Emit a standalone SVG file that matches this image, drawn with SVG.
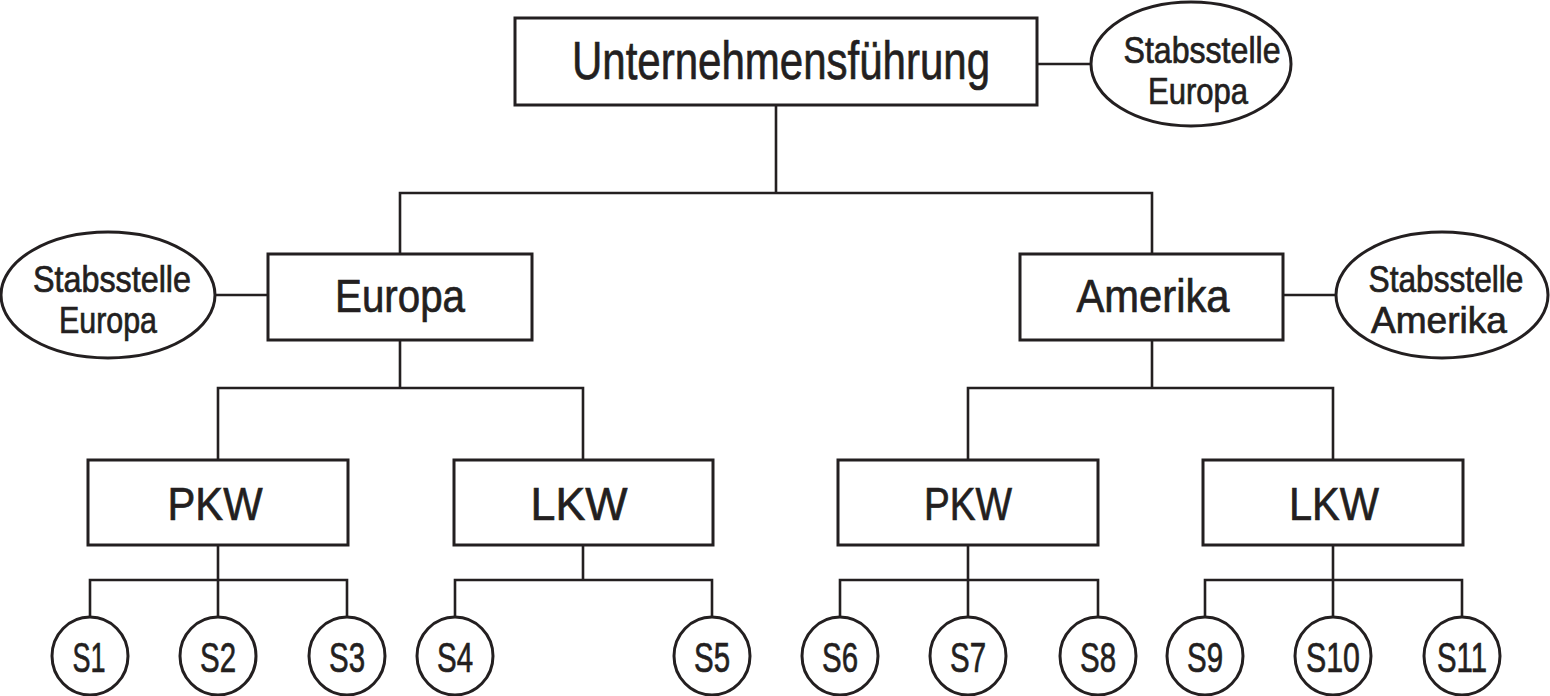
<svg xmlns="http://www.w3.org/2000/svg" width="1550" height="696" viewBox="0 0 1550 696">
<style>
.b{fill:#fff;stroke:#231f20;stroke-width:3}
.c{fill:none;stroke:#231f20;stroke-width:2.6}
text{font-family:"Liberation Sans Narrow","Liberation Sans",Arial,sans-serif;fill:#231f20;stroke:#231f20;stroke-width:0.7;text-anchor:middle}
.t1{font-size:54px}
.t2{font-size:47px}
.t3{font-size:36px}
.t4{font-size:42px}
</style>
<rect width="1550" height="696" fill="#fff"/>
<g id="connectors" class="c">
<path d="M1037 64H1091"/>
<path d="M776 105V193M400 253V193H1152V253"/>
<path d="M216 295H268"/>
<path d="M1283 295H1335"/>
<path d="M400 340V388M218 460V388H583V460"/>
<path d="M1152 340V388M968 460V388H1333V460"/>
<path d="M218 545V580M90 618V580H347V618M218 580V618"/>
<path d="M583 545V580M455 618V580H712V618"/>
<path d="M968 545V580M840 618V580H1098V618M968 580V618"/>
<path d="M1333 545V580M1205 618V580H1462V618M1333 580V618"/>
</g>
<g id="top"><rect class="b" x="515" y="18" width="522" height="87"/><text class="t1" x="781" y="79" textLength="418" lengthAdjust="spacingAndGlyphs">Unternehmensführung</text></g>
<g id="staff-top"><ellipse class="b" cx="1191" cy="64" rx="100" ry="62"/><text class="t3" x="1202" y="63" textLength="157" lengthAdjust="spacingAndGlyphs">Stabsstelle</text><text class="t3" x="1198" y="104" textLength="100" lengthAdjust="spacingAndGlyphs">Europa</text></g>
<g id="europa"><rect class="b" x="268" y="254" width="264" height="86"/><text class="t2" x="400" y="312" textLength="130" lengthAdjust="spacingAndGlyphs">Europa</text></g>
<g id="staff-europa"><ellipse class="b" cx="108" cy="295" rx="107" ry="63"/><text class="t3" x="112" y="292" textLength="158" lengthAdjust="spacingAndGlyphs">Stabsstelle</text><text class="t3" x="108" y="333" textLength="98" lengthAdjust="spacingAndGlyphs">Europa</text></g>
<g id="amerika"><rect class="b" x="1020" y="254" width="263" height="86"/><text class="t2" x="1153" y="312" textLength="153" lengthAdjust="spacingAndGlyphs">Amerika</text></g>
<g id="staff-amerika"><ellipse class="b" cx="1442" cy="295" rx="106" ry="63"/><text class="t3" x="1446" y="292" textLength="155" lengthAdjust="spacingAndGlyphs">Stabsstelle</text><text class="t3" x="1439" y="333" textLength="136" lengthAdjust="spacingAndGlyphs">Amerika</text></g>
<g id="pkw-eu"><rect class="b" x="88" y="460" width="260" height="85"/><text class="t2" x="215" y="520" textLength="95" lengthAdjust="spacingAndGlyphs">PKW</text></g>
<g id="lkw-eu"><rect class="b" x="454" y="460" width="259" height="85"/><text class="t2" x="579" y="520" textLength="97" lengthAdjust="spacingAndGlyphs">LKW</text></g>
<g id="pkw-am"><rect class="b" x="838" y="460" width="260" height="85"/><text class="t2" x="968" y="520" textLength="88" lengthAdjust="spacingAndGlyphs">PKW</text></g>
<g id="lkw-am"><rect class="b" x="1203" y="460" width="260" height="85"/><text class="t2" x="1334" y="520" textLength="90" lengthAdjust="spacingAndGlyphs">LKW</text></g>
<g id="s1"><ellipse class="b" cx="90" cy="656" rx="38" ry="39"/><text class="t4" x="89" y="672" textLength="33" lengthAdjust="spacingAndGlyphs">S1</text></g>
<g id="s2"><ellipse class="b" cx="218" cy="656" rx="38" ry="39"/><text class="t4" x="218" y="672" textLength="36" lengthAdjust="spacingAndGlyphs">S2</text></g>
<g id="s3"><ellipse class="b" cx="347" cy="656" rx="38" ry="39"/><text class="t4" x="347" y="672" textLength="36" lengthAdjust="spacingAndGlyphs">S3</text></g>
<g id="s4"><ellipse class="b" cx="455" cy="656" rx="38" ry="39"/><text class="t4" x="455" y="672" textLength="36" lengthAdjust="spacingAndGlyphs">S4</text></g>
<g id="s5"><ellipse class="b" cx="712" cy="656" rx="38" ry="39"/><text class="t4" x="712" y="672" textLength="36" lengthAdjust="spacingAndGlyphs">S5</text></g>
<g id="s6"><ellipse class="b" cx="840" cy="656" rx="38" ry="39"/><text class="t4" x="840" y="672" textLength="36" lengthAdjust="spacingAndGlyphs">S6</text></g>
<g id="s7"><ellipse class="b" cx="968" cy="656" rx="38" ry="39"/><text class="t4" x="968" y="672" textLength="36" lengthAdjust="spacingAndGlyphs">S7</text></g>
<g id="s8"><ellipse class="b" cx="1098" cy="656" rx="38" ry="39"/><text class="t4" x="1098" y="672" textLength="36" lengthAdjust="spacingAndGlyphs">S8</text></g>
<g id="s9"><ellipse class="b" cx="1205" cy="656" rx="38" ry="39"/><text class="t4" x="1205" y="672" textLength="36" lengthAdjust="spacingAndGlyphs">S9</text></g>
<g id="s10"><ellipse class="b" cx="1333" cy="656" rx="38" ry="39"/><text class="t4" x="1333" y="672" textLength="54" lengthAdjust="spacingAndGlyphs">S10</text></g>
<g id="s11"><ellipse class="b" cx="1462" cy="656" rx="38" ry="39"/><text class="t4" x="1462" y="672" textLength="50" lengthAdjust="spacingAndGlyphs">S11</text></g>
</svg>
